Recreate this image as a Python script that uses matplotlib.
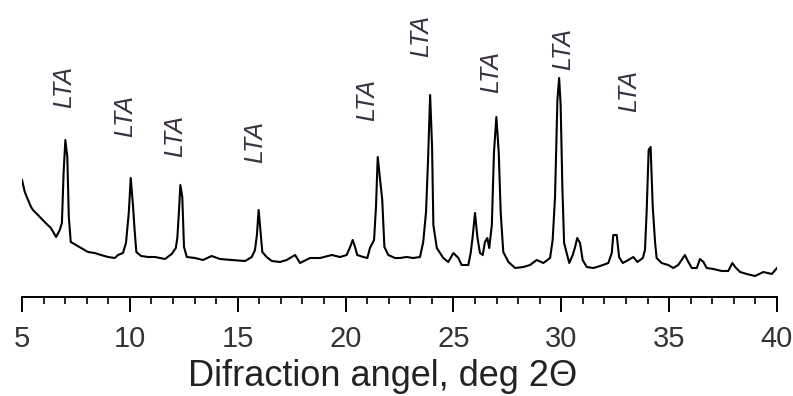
import matplotlib
matplotlib.use('Agg')
import matplotlib.pyplot as plt
from matplotlib.ticker import MultipleLocator

# XRD pattern (2theta in deg, intensity in a.u.)
two_theta = [5.00, 5.13, 5.28, 5.42, 5.51, 5.74, 6.05, 6.34, 6.58, 6.75, 6.85, 6.93, 7.01, 7.10, 7.17,
             7.26, 7.50, 7.74, 8.06, 8.37, 8.66, 8.99, 9.30, 9.45, 9.68, 9.82, 9.95, 10.04, 10.15, 10.22,
             10.30, 10.52, 10.84, 11.17, 11.63, 11.94, 12.13, 12.20, 12.28, 12.34, 12.43, 12.51, 12.64,
             13.02, 13.39, 13.79, 14.18, 14.72, 15.34, 15.65, 15.80, 15.89, 15.97, 16.07, 16.14, 16.34,
             16.58, 16.96, 17.27, 17.66, 17.89, 18.35, 18.82, 19.36, 19.74, 20.05, 20.21, 20.33, 20.44,
             20.54, 20.82, 21.01, 21.13, 21.32, 21.41, 21.49, 21.60, 21.70, 21.80, 21.98, 22.29, 22.52,
             22.83, 23.14, 23.45, 23.60, 23.73, 23.82, 23.92, 24.01, 24.07, 24.23, 24.53, 24.76, 25.00,
             25.23, 25.38, 25.69, 25.80, 25.89, 26.00, 26.11, 26.23, 26.36, 26.46, 26.57, 26.66, 26.78,
             26.88, 26.99, 27.10, 27.19, 27.31, 27.55, 27.86, 28.24, 28.55, 28.86, 29.17, 29.48, 29.60,
             29.71, 29.82, 29.90, 29.97, 30.05, 30.13, 30.25, 30.37, 30.53, 30.64, 30.74, 30.87, 30.99,
             31.18, 31.49, 31.80, 32.18, 32.34, 32.41, 32.57, 32.68, 32.85, 33.11, 33.34, 33.53, 33.78,
             33.88, 33.96, 34.05, 34.14, 34.24, 34.35, 34.42, 34.65, 34.96, 35.19, 35.42, 35.58, 35.73,
             35.89, 36.05, 36.28, 36.43, 36.59, 36.74, 37.05, 37.44, 37.74, 37.93, 38.06, 38.29, 38.60,
             38.98, 39.37, 39.76, 40.00]
intensity = [117, 105, 97, 90, 87, 82, 75, 69, 60, 67, 74, 125, 157, 140, 80,
             55, 52, 49, 45, 44, 42, 40, 39, 42, 44, 54, 84, 119, 90, 67,
             45, 41, 40, 40, 38, 43, 49, 59, 87, 112, 100, 50, 40,
             39, 37, 41, 38, 37, 36, 40, 47, 62, 87, 62, 45, 40,
             36, 35, 37, 42, 34, 39, 39, 42, 40, 42, 50, 57, 50,
             42, 40, 39, 49, 57, 90, 140, 117, 97, 50, 42, 39, 39,
             40, 39, 40, 55, 85, 135, 202, 150, 72, 49, 39, 35, 44,
             39, 32, 32, 44, 60, 84, 60, 44, 42, 55, 59, 49, 72,
             145, 180, 145, 85, 45, 35, 29, 30, 32, 37, 34, 39, 57,
             100, 197, 219, 192, 110, 54, 44, 34, 42, 50, 59, 54, 37,
             30, 29, 31, 34, 44, 62, 62, 40, 34, 37, 40, 35, 39,
             47, 87, 147, 150, 90, 54, 39, 34, 32, 29, 32, 37, 42,
             35, 29, 29, 38, 35, 29, 28, 26, 26, 34, 30, 25, 23,
             21, 25, 23, 29]

# peak annotations
label_x = [6.97, 9.78, 12.09, 15.83, 21.02, 23.50, 26.77, 30.08, 33.14]
label_y = [189, 160, 140, 134, 176, 240, 204, 227, 185]
label_text = 'LTA'

fig = plt.figure(figsize=(7.93, 3.96), dpi=100)
ax = fig.add_axes([22 / 793, 99 / 396, 755 / 793, 297 / 396])

ax.plot(two_theta, intensity, color='black', linewidth=1.5)

for x, y in zip(label_x, label_y):
    ax.text(x, y, label_text, rotation=90, ha='center', va='bottom', fontsize=18,
            fontstyle='italic', family='Liberation Sans', color='#3a3242')

ax.set_xlim(5, 40)
ax.set_ylim(0, 297)

for side in ['left', 'right', 'top']:
    ax.spines[side].set_visible(False)
ax.spines['bottom'].set_linewidth(1.4)
ax.set_yticks([])

ax.xaxis.set_major_locator(MultipleLocator(5))
ax.xaxis.set_minor_locator(MultipleLocator(1))
ax.tick_params(axis='x', which='major', length=11, width=1.4, pad=9, labelsize=21,
               labelcolor='#333333', direction='out')
ax.tick_params(axis='x', which='minor', length=5, width=1.2, direction='out')
for lab in ax.get_xticklabels():
    lab.set_family('Liberation Sans')

ax.set_xlabel('Difraction angel, deg 2\u0398', fontsize=26, family='Liberation Sans',
              color='#222222')
ax.xaxis.set_label_coords(0.477, -0.21)
ax.xaxis.label.set_va('top')

fig.savefig('out.png', dpi=100)
